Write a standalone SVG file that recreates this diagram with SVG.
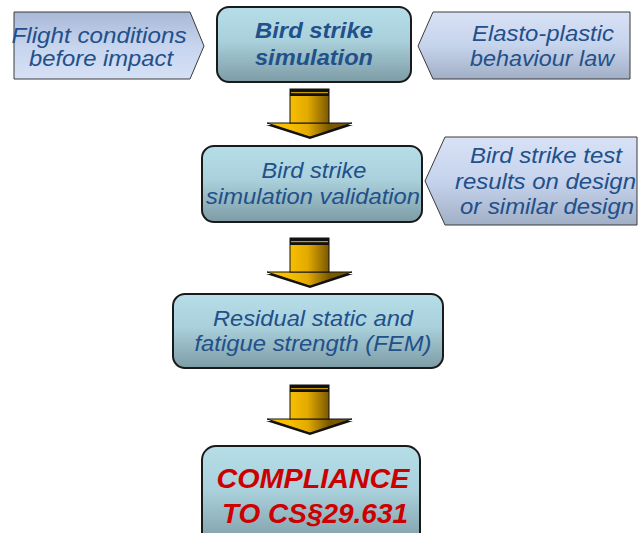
<svg xmlns="http://www.w3.org/2000/svg" xmlns:xlink="http://www.w3.org/1999/xlink" width="643" height="533" viewBox="0 0 643 533">
  <defs>
    <style>
      .box { stroke: #1a1a1a; stroke-width: 2; fill: url(#boxFill); }
      .tagL { stroke: #3a3a3a; stroke-width: 1; fill: url(#tagFillUp); }
      .tagR { stroke: #3a3a3a; stroke-width: 1; fill: url(#tagFillDown); }
      .lbl { font-family: "Liberation Sans", Arial, sans-serif; font-style: italic; fill: #22508a; font-size: 22.5px; }
      .bold { font-weight: bold; }
      .red { fill: #cc0000; font-weight: bold; font-size: 27.5px; }
    </style>
    <linearGradient id="boxFill" x1="0" y1="0" x2="0" y2="1">
      <stop offset="0" stop-color="#b6dee9"/>
      <stop offset="0.45" stop-color="#a9d0db"/>
      <stop offset="1" stop-color="#7d9ca6"/>
    </linearGradient>
    <linearGradient id="tagFillDown" x1="0" y1="0" x2="0" y2="1">
      <stop offset="0" stop-color="#d8e2f6"/>
      <stop offset="0.5" stop-color="#c6d3ec"/>
      <stop offset="1" stop-color="#a1afc6"/>
    </linearGradient>
    <linearGradient id="tagFillUp" x1="0" y1="0" x2="0" y2="1">
      <stop offset="0" stop-color="#a8b9d6"/>
      <stop offset="0.5" stop-color="#c6d4ee"/>
      <stop offset="1" stop-color="#d6e1f5"/>
    </linearGradient>
    <linearGradient id="gold" gradientUnits="userSpaceOnUse" x1="290" y1="0" x2="329" y2="0">
      <stop offset="0" stop-color="#f7bf00"/>
      <stop offset="0.45" stop-color="#e3aa00"/>
      <stop offset="1" stop-color="#7a5800"/>
    </linearGradient>
    <clipPath id="clipTag2">
      <polygon points="425,181 445,137 636,137 636,225 445,225"/>
    </clipPath>
    <!-- block arrow, drawn from its top edge at y=0 -->
    <g id="blockArrow">
      <polygon points="266,36 353,36 310,50" fill="#111"/>
      <polygon points="267,34 352,34 310,48" fill="url(#gold)" stroke="#111" stroke-width="1"/>
      <rect x="290" y="0" width="39" height="34" fill="url(#gold)" stroke="#111" stroke-width="1"/>
      <rect x="290" y="0" width="39" height="7" fill="#111"/>
      <rect x="291" y="3" width="37" height="1.2" fill="#c99a00"/>
    </g>
  </defs>

  <g id="connectors">
    <use xlink:href="#blockArrow" transform="translate(0,89)"/>
    <use xlink:href="#blockArrow" transform="translate(0,238)"/>
    <use xlink:href="#blockArrow" transform="translate(0,385)"/>
  </g>

  <g id="flight-conditions">
    <polygon class="tagL" points="14,12 190,12 204,46 190,79 14,79"/>
    <text class="lbl" x="99" y="43" text-anchor="middle" textLength="175" lengthAdjust="spacingAndGlyphs">Flight conditions</text>
    <text class="lbl" x="101" y="66" text-anchor="middle" textLength="144" lengthAdjust="spacingAndGlyphs">before impact</text>
  </g>

  <g id="bird-strike-simulation">
    <rect class="box" x="217" y="7" width="194" height="75" rx="12"/>
    <text class="lbl bold" x="314" y="38" text-anchor="middle" textLength="118" lengthAdjust="spacingAndGlyphs">Bird strike</text>
    <text class="lbl bold" x="314" y="65" text-anchor="middle" textLength="118" lengthAdjust="spacingAndGlyphs">simulation</text>
  </g>

  <g id="elasto-plastic">
    <polygon class="tagR" points="418,46 433,12 630,12 630,79 433,79"/>
    <text class="lbl" x="543" y="41" text-anchor="middle" textLength="142" lengthAdjust="spacingAndGlyphs">Elasto-plastic</text>
    <text class="lbl" x="542" y="66" text-anchor="middle" textLength="144" lengthAdjust="spacingAndGlyphs">behaviour law</text>
  </g>

  <g id="simulation-validation">
    <rect class="box" x="202" y="146" width="220" height="76" rx="12"/>
    <text class="lbl" x="314" y="178" text-anchor="middle" textLength="105" lengthAdjust="spacingAndGlyphs">Bird strike</text>
    <text class="lbl" x="313" y="204" text-anchor="middle" textLength="214" lengthAdjust="spacingAndGlyphs">simulation validation</text>
  </g>

  <g id="test-results">
    <polygon class="tagR" points="425,181 445,137 637,137 637,225 445,225"/>
    <g clip-path="url(#clipTag2)">
      <text class="lbl" x="546" y="163" text-anchor="middle" textLength="152" lengthAdjust="spacingAndGlyphs">Bird strike test</text>
      <text class="lbl" x="455" y="189" textLength="181" lengthAdjust="spacingAndGlyphs">results on design</text>
      <text class="lbl" x="460" y="214" textLength="174" lengthAdjust="spacingAndGlyphs">or similar design</text>
    </g>
  </g>

  <g id="residual-strength">
    <rect class="box" x="173" y="294" width="270" height="74" rx="12"/>
    <text class="lbl" x="313" y="326" text-anchor="middle" textLength="200" lengthAdjust="spacingAndGlyphs">Residual static and</text>
    <text class="lbl" x="313" y="351" text-anchor="middle" textLength="237" lengthAdjust="spacingAndGlyphs">fatigue strength (FEM)</text>
  </g>

  <g id="compliance">
    <rect class="box" x="202" y="446" width="218" height="100" rx="14"/>
    <text class="lbl red" x="313" y="488" text-anchor="middle" textLength="193" lengthAdjust="spacingAndGlyphs">COMPLIANCE</text>
    <text class="lbl red" x="315" y="523" text-anchor="middle" textLength="186" lengthAdjust="spacingAndGlyphs">TO CS§29.631</text>
  </g>
</svg>
